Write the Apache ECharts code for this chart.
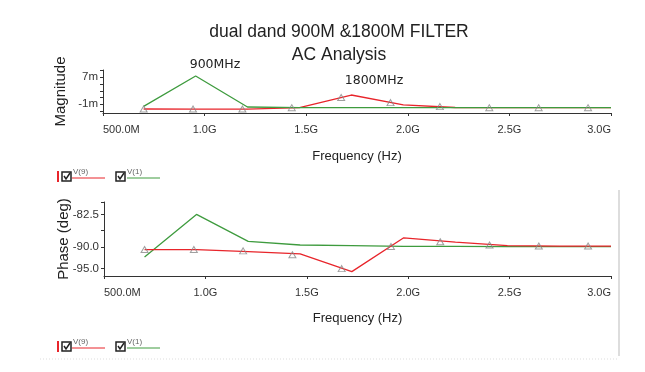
<!DOCTYPE html>
<html><head><meta charset="utf-8">
<script src="https://cdn.jsdelivr.net/npm/echarts@6/dist/echarts.min.js"></script>
<style>html,body{margin:0;padding:0;background:#fff}#c{width:645px;height:372px}</style>
</head><body><div id="c"></div>
<script>
// Frequency sweep points (GHz)
const freqGHz = [0.7, 0.956, 1.211, 1.467, 1.722, 1.978, 2.233, 2.489, 2.744, 3.0];
// Magnitude (m units)
const magV9 = [-2.4, -2.45, -2.45, -2.0, 1.75, -1.2, -1.95, -2.0, -2.0, -2.0];
const magV1 = [-1.6, 7.4, -1.8, -2.0, -2.0, -2.0, -2.0, -2.0, -2.0, -2.0];
// Phase (deg)
const phaseV9 = [-90.6, -90.6, -91.1, -91.6, -95.7, -87.9, -88.9, -89.7, -89.8, -89.8];
const phaseV1 = [-92.3, -82.5, -88.7, -89.55, -89.7, -89.85, -89.85, -89.95, -89.95, -89.95];
// Trace markers on V(9)
const markerFreqGHz = [0.7, 0.943, 1.186, 1.429, 1.672, 1.915, 2.158, 2.401, 2.644, 2.887];
const markerMagV9 = [-2.4, -2.4, -2.4, -2.0, 1.0, -0.5, -1.7, -2.0, -2.0, -2.0];
const markerPhaseV9 = [-90.6, -90.6, -90.9, -91.8, -95.0, -89.9, -88.8, -89.55, -89.8, -89.8];
// Axis tick labels
const xTicks = [0.5, 1.0, 1.5, 2.0, 2.5, 3.0];
const magLabels = [-1, 7];
const phaseLabels = [-95, -90, -82.5];
const seriesNames = ['V(9)', 'V(1)'];
const titleText = 'dual dand 900M &1800M FILTER';
const subTitleText = 'AC Analysis';

const RED = '#e8252b', GREEN = '#3e9b3e', AXIS = '#333';
const FONT = 'Liberation Sans, Arial, sans-serif';

function pts(xs, ys){ return xs.map((x,i)=>[x, ys[i]]); }
function xAxisCfg(idx){
  return {
    type:'value', gridIndex:idx, min:0.5, max:3.0, interval:0.5,
    name:'Frequency (Hz)', nameLocation:'middle', nameGap: idx===0 ? 37 : 36,
    nameTextStyle:{fontFamily:FONT, fontSize:13, color:'#222'},
    axisLine:{show:true, onZero:false, lineStyle:{color:AXIS, width:1}},
    axisTick:{show:true, length:3, customValues:xTicks, lineStyle:{color:AXIS}},
    axisLabel:{margin:11, fontFamily:FONT, fontSize:11, color:'#333',
      customValues:xTicks, alignMinLabel:'left', alignMaxLabel:'right',
      formatter:v => (Math.abs(v-0.5)<1e-9 ? '500.0M' : v.toFixed(1)+'G')},
    splitLine:{show:false}
  };
}
const chart = echarts.init(document.getElementById('c'), null, {renderer:'canvas'});
const option = {
  animation:false,
  backgroundColor:'#fff',
  title:[
    {text:titleText, left:334, top:18, textAlign:'center',
     textStyle:{fontFamily:FONT, fontSize:17.5, fontWeight:'normal', color:'#222'}},
    {text:subTitleText, left:334, top:41, textAlign:'center',
     textStyle:{fontFamily:FONT, fontSize:17.5, fontWeight:'normal', color:'#222'}}
  ],
  grid:[
    {left:103, top:70, width:508, height:43},
    {left:104, top:202, width:507, height:74}
  ],
  xAxis:[xAxisCfg(0), xAxisCfg(1)],
  yAxis:[
    {type:'value', gridIndex:0, min:-3.58, max:9.16,
     name:'Magnitude', nameLocation:'middle', nameGap:35, nameRotate:90, nameMoveOverlap:false,
     nameTextStyle:{fontFamily:FONT, fontSize:15, color:'#222'},
     axisLine:{show:true, onZero:false, lineStyle:{color:AXIS}},
     axisTick:{show:true, length:3, customValues:[-3, -1, 1, 3, 5, 7, 9], lineStyle:{color:AXIS}},
     axisLabel:{customValues:magLabels, margin:5, fontFamily:FONT, fontSize:11.5, color:'#333',
       formatter:v => v+'m'},
     splitLine:{show:false}},
    {type:'value', gridIndex:1, min:-96.7, max:-79.64,
     name:'Phase (deg)', nameLocation:'middle', nameGap:33, nameRotate:90, nameMoveOverlap:false,
     nameTextStyle:{fontFamily:FONT, fontSize:15, color:'#222'},
     axisLine:{show:true, onZero:false, lineStyle:{color:AXIS}},
     axisTick:{show:true, length:3, customValues:[-95, -90, -86.25, -82.5, -79.64], lineStyle:{color:AXIS}},
     axisLabel:{customValues:phaseLabels, margin:5, fontFamily:FONT, fontSize:11.5, color:'#333',
       formatter:v => v.toFixed(1)},
     splitLine:{show:false}}
  ],
  series:[
    {name:seriesNames[0], type:'line', xAxisIndex:0, yAxisIndex:0, data:pts(freqGHz, magV9),
     showSymbol:false, lineStyle:{color:RED, width:1.3}, z:2},
    {name:seriesNames[1], type:'line', xAxisIndex:0, yAxisIndex:0, data:pts(freqGHz, magV1),
     showSymbol:false, lineStyle:{color:GREEN, width:1.3}, z:3},
    {name:'m9', type:'scatter', xAxisIndex:0, yAxisIndex:0, data:pts(markerFreqGHz, markerMagV9),
     symbol:'triangle', symbolSize:[7,6], itemStyle:{color:'rgba(255,255,255,0)', borderColor:'#888', borderWidth:1}, z:4},
    {name:seriesNames[0]+' ', type:'line', xAxisIndex:1, yAxisIndex:1, data:pts(freqGHz, phaseV9),
     showSymbol:false, lineStyle:{color:RED, width:1.3}, z:3},
    {name:seriesNames[1]+' ', type:'line', xAxisIndex:1, yAxisIndex:1, data:pts(freqGHz, phaseV1),
     showSymbol:false, lineStyle:{color:GREEN, width:1.3}, z:2},
    {name:'p9', type:'scatter', xAxisIndex:1, yAxisIndex:1, data:pts(markerFreqGHz, markerPhaseV9),
     symbol:'triangle', symbolSize:[7,6], itemStyle:{color:'rgba(255,255,255,0)', borderColor:'#888', borderWidth:1}, z:4}
  ],
  graphic:[]
};
function legendGroup(y){
  const els = [];
  els.push({type:'rect', shape:{x:57, y:y-1, width:2, height:11}, style:{fill:RED}, silent:true});
  [[62, RED, 72, 105, seriesNames[0]], [116, GREEN, 127, 160, seriesNames[1]]].forEach(([bx, col, lx1, lx2, nm])=>{
    els.push({type:'rect', shape:{x:bx, y:y, width:9, height:9}, style:{fill:'#fff', stroke:'#222', lineWidth:1.5}, silent:true});
    els.push({type:'polyline', shape:{points:[[bx+2,y+4],[bx+4,y+7],[bx+8,y+1]]}, style:{stroke:'#222', lineWidth:1.5, fill:null}, silent:true});
    els.push({type:'line', shape:{x1:lx1, y1:y+6, x2:lx2, y2:y+6}, style:{stroke:col, lineWidth:1}, silent:true});
    els.push({type:'text', style:{x:bx+11, y:y-4, text:nm, fontSize:8, fontFamily:FONT, fill:'#666'}, silent:true});
  });
  return els;
}
option.graphic = [
  {type:'text', style:{x:215, y:65, text:'900MHz', textAlign:'center', textVerticalAlign:'middle', fontSize:12.5, fontFamily:'DejaVu Sans', fill:'#222'}, silent:true},
  {type:'text', style:{x:374, y:81, text:'1800MHz', textAlign:'center', textVerticalAlign:'middle', fontSize:12.5, fontFamily:'DejaVu Sans', fill:'#222'}, silent:true},
  ...legendGroup(172),
  ...legendGroup(342),
  {type:'line', shape:{x1:619, y1:190, x2:619, y2:356}, style:{stroke:'#bbb', lineWidth:1}, silent:true},
  {type:'line', shape:{x1:40, y1:359, x2:619, y2:359}, style:{stroke:'#ddd', lineWidth:1, lineDash:[1,2]}, silent:true}
];
chart.setOption(option);
</script>
</body></html>
